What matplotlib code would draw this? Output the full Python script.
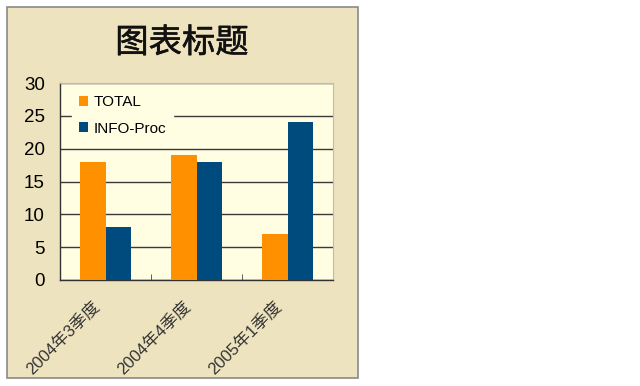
import matplotlib
matplotlib.use("Agg")
import matplotlib.pyplot as plt
from matplotlib.patches import Rectangle
import matplotlib.patheffects as pe
import matplotlib.transforms as mtransforms
import numpy as np

plt.rcParams['font.family'] = ['Liberation Sans', 'Noto Sans CJK SC', 'DejaVu Sans']

categories = ["2004年3季度", "2004年4季度", "2005年1季度"]
series_names = ["TOTAL", "INFO-Proc"]
total = [18, 19, 7]
info_proc = [8, 18, 24]
yticks = [0, 5, 10, 15, 20, 25, 30]
title = "图表标题"

c_orange = "#FF9000"
c_blue = "#004B7D"
c_frame_bg = "#EEE3BF"
c_plot_bg = "#FFFDE2"

fig = plt.figure(figsize=(6.4, 3.86), dpi=100)
fig.patch.set_facecolor("white")
frame = Rectangle((7/640, 1-378/386), 351/640, 371/386, transform=fig.transFigure,
                  facecolor=c_frame_bg, edgecolor="#8A8A8A", linewidth=1.2, zorder=-10)
fig.patches.append(frame)

ax = fig.add_axes([60/640, 1-280/386, 273/640, 197/386])
ax.set_zorder(2)
ax.set_facecolor(c_plot_bg)
x = np.arange(len(categories))
w = 0.28
ax.bar(x - w/2, total, w, color=c_orange, label=series_names[0], zorder=3)
ax.bar(x + w/2, info_proc, w, color=c_blue, label=series_names[1], zorder=3)

ax.set_xlim(-0.5, 2.5)
ax.set_ylim(0, 30)
ax.set_yticks(yticks)
ax.set_yticklabels([str(v) for v in yticks], fontsize=13.5)
ax.tick_params(axis='y', length=0, pad=11)
ax.yaxis.grid(True, color="#3A3A3A", linewidth=1.0, zorder=1)
ax.set_axisbelow(True)

ax.set_xticks(x)
ax.set_xticklabels(categories, rotation=45, ha='right', rotation_mode='anchor',
                   fontsize=12, color="#333333")
ax.tick_params(axis='x', length=0, pad=13)
offset = mtransforms.ScaledTranslation(-0.15, 0.0, fig.dpi_scale_trans)
for lbl in ax.get_xticklabels():
    lbl.set_transform(lbl.get_transform() + offset)
ax.set_xticks([0.5, 1.5], minor=True)
ax.tick_params(axis='x', which='minor', direction='in', length=4, color="#444444")

for s in ['top', 'right']:
    ax.spines[s].set_color("#BBBBBB")
    ax.spines[s].set_linewidth(0.8)
for s in ['left', 'bottom']:
    ax.spines[s].set_color("#333333")
    ax.spines[s].set_linewidth(1.0)

leg = ax.legend(loc='upper left', bbox_to_anchor=(0.045, 0.972), frameon=True, fontsize=11,
                handlelength=0.6, handleheight=0.6, handletextpad=0.35, labelspacing=0.8,
                borderpad=0.45, borderaxespad=0.0, fancybox=False)
leg.get_frame().set_facecolor(c_plot_bg)
leg.get_frame().set_edgecolor(c_plot_bg)
leg.get_frame().set_alpha(1)
leg.set_zorder(5)

fig.text(182/640, 1-44/386, title, fontsize=24, ha='center', va='center',
         color="#111111", zorder=3,
         path_effects=[pe.withStroke(linewidth=0.4, foreground="#111111")])

fig.savefig("out.png", dpi=100)
